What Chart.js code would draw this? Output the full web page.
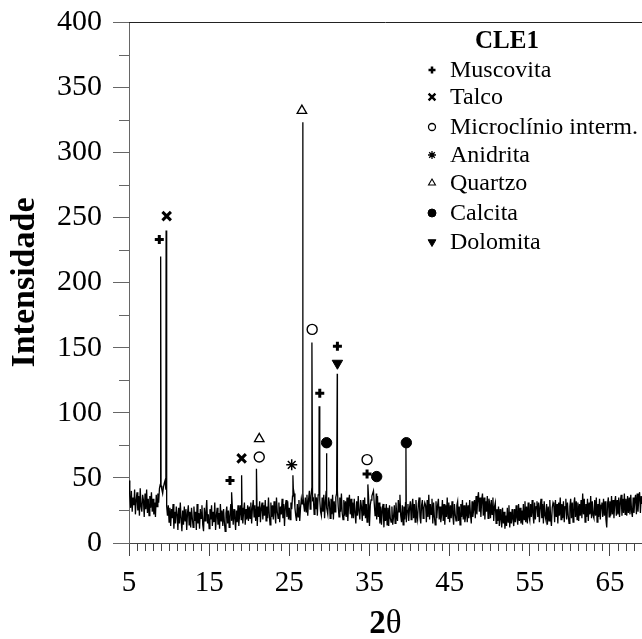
<!DOCTYPE html>
<html>
<head>
<meta charset="utf-8">
<script src="https://cdn.jsdelivr.net/npm/chart.js@4"></script>
<style>
  html, body { margin: 0; padding: 0; background: #fff; overflow: hidden; }
  #wrap { width: 642px; height: 639px; position: relative; }
  canvas { display: block; }
</style>
</head>
<body>
<div id="wrap"><canvas id="xrd"></canvas></div>
<script>
// Diffractogram CLE1 - scan from 5 to 69 deg 2theta, one reading every 0.1 deg
const scanStart = 5;
const scanStep = 0.1;
const counts = [
  48, 36, 27, 40, 24, 35, 29, 41, 22, 33,
  39, 25, 36, 21, 42, 28, 24, 37, 33, 20,
  38, 26, 41, 23, 34, 21, 36, 27, 39, 24,
  34, 22, 31, 20, 37, 28, 38, 31, 42, 45,
  44, 41, 38, 43, 46, 48, 41, 28, 21, 29,
  16, 27, 13, 26, 19, 30, 11, 24, 15, 28,
  22, 10, 27, 15, 31, 19, 9, 25, 14, 28,
  17, 26, 10, 23, 29, 14, 24, 12, 27, 19,
  12, 28, 17, 24, 10, 30, 15, 23, 11, 26,
  19, 29, 14, 9, 27, 17, 24, 33, 15, 22,
  11, 26, 18, 29, 13, 24, 16, 31, 10, 21,
  27, 14, 23, 11, 30, 17, 25, 13, 26, 16,
  9, 23, 28, 15, 25, 12, 21, 30, 17, 27,
  14, 26, 19, 10, 25, 16, 29, 13, 22, 29,
  18, 27, 15, 24, 31, 14, 26, 18, 29, 17,
  28, 19, 31, 15, 27, 33, 20, 29, 17, 26,
  13, 28, 20, 32, 16, 27, 31, 18, 29, 21,
  33, 17, 28, 19, 35, 22, 14, 31, 20, 29,
  18, 32, 23, 15, 35, 24, 19, 31, 16, 28,
  22, 34, 19, 30, 13, 28, 33, 20, 32, 18,
  27, 18, 31, 26, 36, 42, 38, 27, 21, 17,
  30, 20, 33, 17, 27, 34, 30, 38, 29, 24,
  35, 24, 37, 21, 33, 40, 26, 36, 42, 33,
  34, 22, 38, 26, 35, 21, 37, 39, 33, 24,
  21, 35, 24, 37, 19, 32, 40, 27, 22, 35,
  31, 19, 34, 22, 37, 18, 32, 24, 35, 38,
  40, 28, 20, 35, 24, 38, 23, 18, 33, 21,
  32, 20, 35, 17, 30, 37, 22, 34, 19, 31,
  19, 34, 23, 15, 32, 21, 36, 24, 18, 33,
  28, 17, 33, 21, 35, 19, 30, 16, 31, 34,
  13, 29, 33, 36, 38, 40, 30, 21, 29, 18,
  36, 20, 31, 15, 28, 14, 26, 30, 12, 27,
  17, 30, 14, 27, 13, 29, 19, 16, 28, 14,
  20, 29, 15, 31, 22, 17, 33, 24, 37, 21,
  16, 29, 14, 28, 18, 31, 16, 25, 30, 17,
  27, 32, 18, 29, 34, 19, 30, 16, 33, 22,
  18, 30, 35, 20, 15, 29, 33, 19, 27, 31,
  29, 16, 33, 20, 37, 18, 30, 22, 34, 15,
  31, 20, 14, 32, 19, 29, 34, 18, 28, 16,
  22, 33, 17, 30, 14, 29, 20, 35, 19, 31,
  16, 29, 19, 32, 21, 14, 30, 22, 17, 29,
  32, 17, 28, 14, 30, 20, 33, 18, 29, 16,
  21, 31, 16, 29, 19, 33, 22, 15, 32, 20,
  26, 33, 19, 36, 22, 34, 39, 24, 35, 20,
  33, 38, 21, 35, 18, 32, 24, 36, 19, 34,
  30, 19, 33, 22, 35, 17, 28, 31, 15, 26,
  17, 28, 13, 26, 18, 12, 27, 15, 24, 11,
  21, 13, 27, 16, 29, 12, 24, 15, 26, 18,
  13, 26, 16, 29, 19, 14, 30, 17, 27, 15,
  25, 14, 30, 18, 32, 16, 28, 15, 31, 20,
  17, 30, 20, 33, 22, 15, 31, 18, 28, 32,
  20, 31, 16, 28, 34, 19, 30, 15, 32, 21,
  18, 30, 14, 28, 17, 33, 20, 13, 27, 31,
  29, 16, 33, 20, 30, 15, 31, 21, 35, 18,
  30, 19, 32, 16, 28, 34, 18, 31, 21, 15,
  28, 34, 19, 31, 16, 30, 35, 20, 32, 18,
  31, 17, 30, 21, 33, 19, 38, 22, 34, 16,
  30, 20, 34, 17, 31, 22, 36, 19, 32, 21,
  19, 33, 21, 35, 16, 30, 20, 34, 18, 29,
  31, 20, 34, 21, 32, 18, 12, 30, 35, 20,
  32, 21, 36, 22, 33, 19, 31, 36, 21, 33,
  22, 35, 20, 32, 37, 21, 34, 23, 38, 22,
  34, 21, 36, 23, 35, 22, 37, 24, 20, 35,
  23, 33, 37, 22, 38, 24, 35, 39, 23, 36,
  30
];

// reflection maxima
const peakAngle  = [8.95, 9.63, 17.8, 19.05, 20.9, 25.45, 26.68, 27.82, 28.72, 29.62, 30.98, 34.8, 35.85, 39.55];
const peakHeight = [220, 240, 39, 52, 57, 52, 323, 154, 105, 69, 130, 45, 38, 73];

// phase markers
const muscovitaX = [8.78, 17.6, 28.8, 31.0, 34.7];
const muscovitaY = [233, 48, 115, 151, 53];
const talcoX = [9.7, 19.05];
const talcoY = [251, 65];
const microclinioX = [27.85, 21.25, 34.7];
const microclinioY = [164, 66, 64];
const anidritaX = [25.3];
const anidritaY = [60];
const quartzoX = [26.57, 21.25];
const quartzoY = [332, 80];
const calcitaX = [29.65, 35.9, 39.6];
const calcitaY = [77, 51, 77];
const dolomitaX = [31.0];
const dolomitaY = [138];

const xTicks = [5, 15, 25, 35, 45, 55, 65];
const yTicks = [0, 50, 100, 150, 200, 250, 300, 350, 400];

const serif = "'Liberation Serif', Tinos, 'Times New Roman', Times, serif";

const trace = counts.map((y, i) => ({ x: +(scanStart + i * scanStep).toFixed(2), y }));
peakAngle.forEach((x, i) => trace.push({ x, y: peakHeight[i] }));
trace.sort((a, b) => a.x - b.x);

const pts = (xs, ys) => xs.map((x, i) => ({ x, y: ys[i] }));

const phases = [
  { label: 'Muscovita', data: pts(muscovitaX, muscovitaY), pointStyle: 'cross', radius: 4.5, bw: 3, fill: '#000', legendR: 3.5, legendBw: 2.5 },
  { label: 'Talco', data: pts(talcoX, talcoY), pointStyle: 'crossRot', radius: 6, bw: 3, fill: '#000', legendR: 4.8, legendBw: 2.4 },
  { label: 'Microclínio interm.', data: pts(microclinioX, microclinioY), pointStyle: 'circle', radius: 5, bw: 1.4, fill: '#fff', legendR: 3.5, legendBw: 1.3 },
  { label: 'Anidrita', data: pts(anidritaX, anidritaY), pointStyle: 'star', radius: 5.5, bw: 1.5, fill: '#000', legendR: 4, legendBw: 1.3 },
  { label: 'Quartzo', data: pts(quartzoX, quartzoY), pointStyle: 'triangle', radius: 5.5, bw: 1.3, fill: '#fff', legendR: 4, legendBw: 1.1 },
  { label: 'Calcita', data: pts(calcitaX, calcitaY), pointStyle: 'circle', radius: 5.2, bw: 1, fill: '#000', legendR: 4, legendBw: 1 },
  { label: 'Dolomita', data: pts(dolomitaX, dolomitaY), pointStyle: 'triangle', radius: 6, bw: 1, fill: '#000', rotation: 180, legendR: 4.5, legendBw: 1 }
];

// minor ticks, top frame line, axis titles and phase key
const decorations = {
  id: 'decorations',
  afterDraw(chart) {
    const { ctx, chartArea: a, scales: { x, y } } = chart;
    ctx.save();
    ctx.lineWidth = 1;
    ctx.strokeStyle = '#444';
    ctx.beginPath();
    for (let v = 6; v <= 69; v++) {
      if (xTicks.includes(v)) continue;
      const px = Math.round(x.getPixelForValue(v)) + 0.5;
      ctx.moveTo(px, a.bottom);
      ctx.lineTo(px, a.bottom + 8);
    }
    ctx.stroke();
    ctx.strokeStyle = '#666';
    ctx.beginPath();
    for (let v = 25; v < 400; v += 50) {
      const py = Math.round(y.getPixelForValue(v)) + 0.5;
      ctx.moveTo(a.left - 10, py);
      ctx.lineTo(a.left, py);
    }
    ctx.stroke();
    ctx.strokeStyle = '#222';
    ctx.beginPath();
    ctx.moveTo(a.left, a.top + 0.5);
    ctx.lineTo(a.right, a.top + 0.5);
    ctx.stroke();

    ctx.fillStyle = '#000';
    ctx.textBaseline = 'middle';
    // y title
    ctx.save();
    ctx.translate(25, (a.top + a.bottom) / 2);
    ctx.rotate(-Math.PI / 2);
    ctx.textAlign = 'center';
    ctx.font = 'bold 34px ' + serif;
    ctx.fillText('Intensidade', 0, 0);
    ctx.restore();
    // x title: bold 2, plain theta
    const cx = (a.left + a.right) / 2;
    ctx.font = 'bold 33px ' + serif;
    const w2 = ctx.measureText('2').width;
    ctx.font = '33px ' + serif;
    const wt = ctx.measureText('θ').width;
    ctx.textAlign = 'left';
    ctx.font = 'bold 33px ' + serif;
    ctx.fillText('2', cx - (w2 + wt) / 2, 624);
    ctx.font = '33px ' + serif;
    ctx.fillText('θ', cx - (w2 + wt) / 2 + w2, 624);

    // phase key
    ctx.textAlign = 'center';
    ctx.font = 'bold 25px ' + serif;
    ctx.fillText('CLE1', 507, 42);
    const rows = [70, 97, 127, 155, 183, 213, 242];
    ctx.textAlign = 'left';
    ctx.font = '24px ' + serif;
    phases.forEach((p, i) => {
      ctx.fillStyle = p.fill;
      ctx.strokeStyle = '#000';
      ctx.lineWidth = p.legendBw;
      Chart.helpers.drawPoint(ctx, { pointStyle: p.pointStyle, radius: p.legendR, rotation: p.rotation || 0, borderWidth: p.legendBw }, 432, rows[i]);
      ctx.fillStyle = '#000';
      ctx.fillText(p.label, 450, rows[i] + 1);
    });
    ctx.restore();
  }
};

function draw() {
  new Chart(document.getElementById('xrd'), {
    type: 'scatter',
    data: {
      datasets: [
        {
          label: 'CLE1',
          data: trace,
          showLine: true,
          borderColor: '#000',
          borderWidth: 1.3,
          pointRadius: 0,
          tension: 0
        },
        ...phases.map(p => ({
          label: p.label,
          data: p.data,
          showLine: false,
          pointStyle: p.pointStyle,
          pointRadius: p.radius,
          pointRotation: p.rotation || 0,
          pointBorderWidth: p.bw,
          pointBorderColor: '#000',
          pointBackgroundColor: p.fill
        }))
      ]
    },
    options: {
      responsive: true,
      maintainAspectRatio: false,
      animation: false,
      layout: { autoPadding: false, padding: { top: 22, right: 0, left: 0, bottom: 0 } },
      plugins: { legend: { display: false }, tooltip: { enabled: false } },
      scales: {
        x: {
          type: 'linear',
          min: 5,
          max: 69,
          afterBuildTicks: s => { s.ticks = xTicks.map(value => ({ value })); },
          afterFit: s => { s.height = 96; s.paddingLeft = 0; s.paddingRight = 0; },
          border: { color: '#444', width: 1 },
          grid: { drawOnChartArea: false, tickLength: 13, tickColor: '#444' },
          ticks: { color: '#000', padding: 10, maxRotation: 0, font: { family: serif, size: 29 } }
        },
        y: {
          min: 0,
          max: 400,
          afterBuildTicks: s => { s.ticks = yTicks.map(value => ({ value })); },
          afterFit: s => { s.width = 129; s.paddingTop = 0; s.paddingBottom = 0; },
          border: { color: '#666', width: 1 },
          grid: { drawOnChartArea: false, tickLength: 16, tickColor: '#666' },
          ticks: { color: '#000', padding: 11, font: { family: serif, size: 30 } }
        }
      }
    },
    plugins: [decorations]
  });
}

Promise.all([
  document.fonts.load("28px 'Liberation Serif'"),
  document.fonts.load("bold 28px 'Liberation Serif'")
]).catch(() => {}).then(draw);
</script>
</body>
</html>
